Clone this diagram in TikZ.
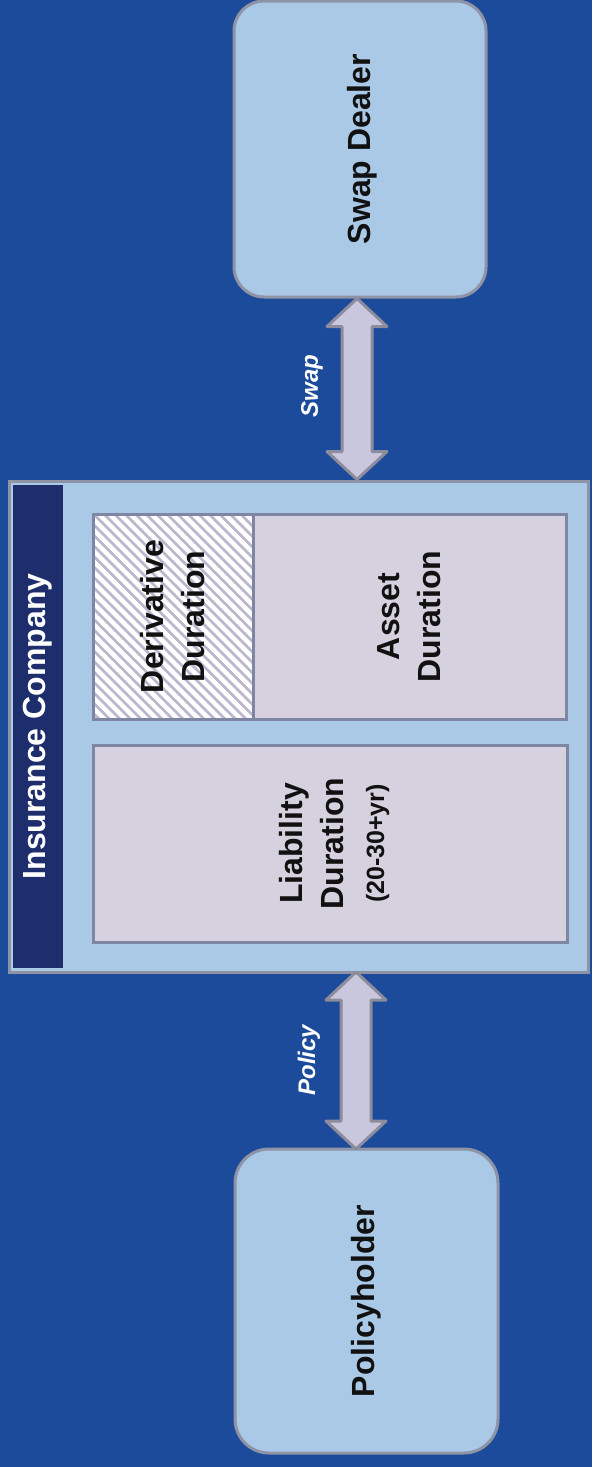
\documentclass[tikz,border=0pt]{standalone}
\usepackage{fontspec}
\setmainfont{Liberation Sans}
\usetikzlibrary{calc}
\definecolor{bgblue}{HTML}{1B4B9A}
\definecolor{navy}{HTML}{1E2D6B}
\definecolor{lightfill}{HTML}{A9C9E7}
\definecolor{boxgray}{HTML}{8E93A6}
\definecolor{innerfill}{HTML}{D5D1DE}
\definecolor{innerline}{HTML}{7E86A4}
\definecolor{arrfill}{HTML}{C9C7DE}
\definecolor{arrline}{HTML}{8C8C9C}
\definecolor{hatchcol}{HTML}{BDB6CF}
\definecolor{txt}{HTML}{111111}
\newcommand\mydarrow[2]{%
  \draw[arrowbody] (#1) -- ($(#1)+(30,28)$) -- ($(#1)+(15,28)$) -- ($(#2)+(15,-28)$) -- ($(#2)+(30,-28)$) -- (#2) -- ($(#2)+(-30,-28)$) -- ($(#2)+(-15,-28)$) -- ($(#1)+(-15,28)$) -- ($(#1)+(-30,28)$) -- cycle;}
\begin{document}
\begin{tikzpicture}[x=1pt,y=-1pt,
  every node/.style={inner sep=0pt,outer sep=0pt},
  roundbox/.style={draw=boxgray,line width=3pt,fill=lightfill,rounded corners=30pt},
  outerbox/.style={draw=boxgray,line width=3pt,fill=lightfill},
  innerbox/.style={draw=innerline,line width=3pt,fill=innerfill},
  lbl/.style={rotate=90,text=txt,align=center,font=\fontsize{32}{41}\selectfont\bfseries},
  arrlbl/.style={rotate=90,text=white,font=\fontsize{24}{28}\selectfont\bfseries\itshape},
  arrowbody/.style={draw=arrline,line width=3pt,fill=arrfill,line join=round},
  hatchline/.style={draw=hatchcol,line width=2.8pt}]
\useasboundingbox (0,0) rectangle (592,1467);
\fill[bgblue] (0,0) rectangle (592,1467);
% top and bottom boxes
\node[roundbox,minimum width=252pt,minimum height=296pt] (swap) at (360,149) {};
\node[lbl] at ($(swap.center)+(2,0)$) {Swap Dealer};
\node[roundbox,rounded corners=34pt,minimum width=263pt,minimum height=304pt] (ph) at (366.5,1301) {};
\node[lbl] at (ph.center) {Policyholder};
% insurance company
\node[outerbox,minimum width=579pt,minimum height=491pt] (ins) at (298.5,726.5) {};
\node[fill=navy,minimum width=50pt,minimum height=483pt] (head) at (38,726.5) {};
\node[rotate=90,text=white,font=\fontsize{32}{38}\selectfont\bfseries] at (head.center) {Insurance Company};
% derivative (hatched)
\node[fill=white,minimum width=160pt,minimum height=205pt] (der) at (173,616.5) {};
\begin{scope}
\clip (der.north west) rectangle (der.south east);
\foreach \k in {-241,-230.5,...,170}
  \draw[hatchline] ($(der.north west)+(\k,0)$) -- ++(260,260);
\end{scope}
\draw[innerline,line width=3pt] (der.north west) rectangle (der.south east);
\node[lbl] at (der.center) {Derivative\\Duration};
% asset
\node[innerbox,minimum width=313pt,minimum height=205pt] (asset) at (409.5,616.5) {};
\node[lbl] at (asset.center) {Asset\\Duration};
% liability
\node[innerbox,minimum width=474pt,minimum height=197pt] (liab) at (330,843.5) {};
\node[lbl] at ($(liab.center)+(4,0)$) {Liability\\Duration\\{\fontsize{25}{30}\selectfont (20-30+yr)}};
% arrows
\coordinate (sa) at ($(swap.south)+(-3,1.5)$);
\coordinate (sb) at ($(sa |- ins.north)+(0,-1.5)$);
\mydarrow{sa}{sb}
\node[arrlbl] at (312,386) {Swap};
\coordinate (pa) at ($(ins.south -| ph.north)+(-10.5,0)$);
\coordinate (pb) at ($(ph.north)+(-10.5,0)$);
\mydarrow{pa}{pb}
\node[arrlbl] at (309,1060) {Policy};
\end{tikzpicture}
\end{document}
